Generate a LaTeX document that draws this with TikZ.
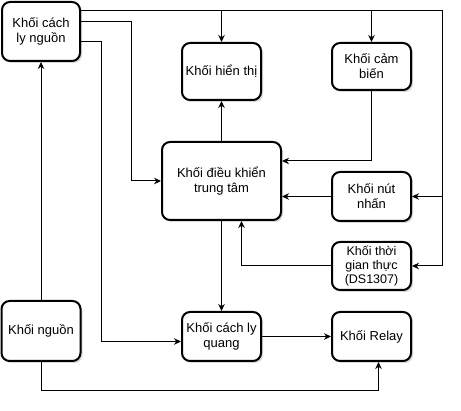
\documentclass[tikz,border=0pt]{standalone}
\usepackage{fontspec}
\setmainfont{Liberation Sans}
\usetikzlibrary{arrows.meta,shadows}
\tikzset{
  blk/.style={draw=black, line width=2pt, rounded corners=8pt, fill=white,
    align=center, inner sep=2pt, font=\fontsize{13}{15}\selectfont,
    drop shadow={shadow xshift=2pt, shadow yshift=-2pt, opacity=0.15, fill=black}},
  arr/.style={line width=1pt, -{Stealth[length=7pt,width=6.5pt]}},
  ln/.style={line width=1pt}
}
\begin{document}
\begin{tikzpicture}[x=1pt,y=-1pt]
\useasboundingbox (0,0) rectangle (461,411);
% nodes
\node[blk, minimum width=78pt, minimum height=59pt] (cln) at (41,31.5) {Khối cách\\ly nguồn};
\node[blk, minimum width=79pt, minimum height=57pt] (ht) at (221.5,71.5) {Khối hiển thị};
\node[blk, minimum width=79pt, minimum height=47pt] (cb) at (371.5,66.5) {Khối cảm\\biến};
\node[blk, minimum width=119pt, minimum height=78pt] (dk) at (221.5,181) {Khối điều khiển\\trung tâm};
\node[blk, minimum width=79pt, minimum height=49pt] (nn) at (371.5,196.5) {Khối nút\\nhấn};
\node[blk, minimum width=79pt, minimum height=48pt, font=\fontsize{12.5}{14}\selectfont, inner sep=0pt] (tg) at (371.5,266) {Khối thời\\gian thực\\(DS1307)};
\node[blk, minimum width=79pt, minimum height=49pt] (rl) at (371.5,336.5) {Khối Relay};
\node[blk, minimum width=79pt, minimum height=49pt] (clq) at (221.5,336.5) {Khối cách ly\\quang};
\node[blk, minimum width=79pt, minimum height=60pt] (ng) at (41,331) {Khối nguồn};
% helper coordinates
\coordinate (c1) at (442,11);
\coordinate (c2) at (131,22);
\coordinate (c3) at (101,41.5);
\coordinate (c5) at (41,391);
% connectors from isolated power block
\draw[arr] ([yshift=20.5pt]cln.east) -| (ht.north);
\draw[arr] ([yshift=20.5pt]cln.east) -| (cb.north);
\draw[arr] ([yshift=20.5pt]cln.east) -- (c1) |- (nn.east);
\draw[arr] (c1) |- (tg.east);
\draw[arr] ([yshift=9.5pt]cln.east) -- (c2) |- (dk.west);
\draw[arr] ([yshift=-10pt]cln.east) -- (c3) |- ([yshift=-5pt]clq.west);
% power
\draw[arr] (ng.north) -- (cln.south);
\draw[arr] (ng.south) -- (c5) -| ([xshift=7pt]rl.south);
% controller links
\draw[arr] (dk.north) -- (ht.south);
\draw[arr] (cb.south) |- ([yshift=20pt]dk.east);
\draw[arr] (nn.west) -- (dk.east |- nn.west);
\draw[arr] (tg.west) -| ([xshift=20pt]dk.south);
\draw[arr] (dk.south) -- (clq.north);
\draw[arr] (clq.east) -- (rl.west);
\end{tikzpicture}
\end{document}
